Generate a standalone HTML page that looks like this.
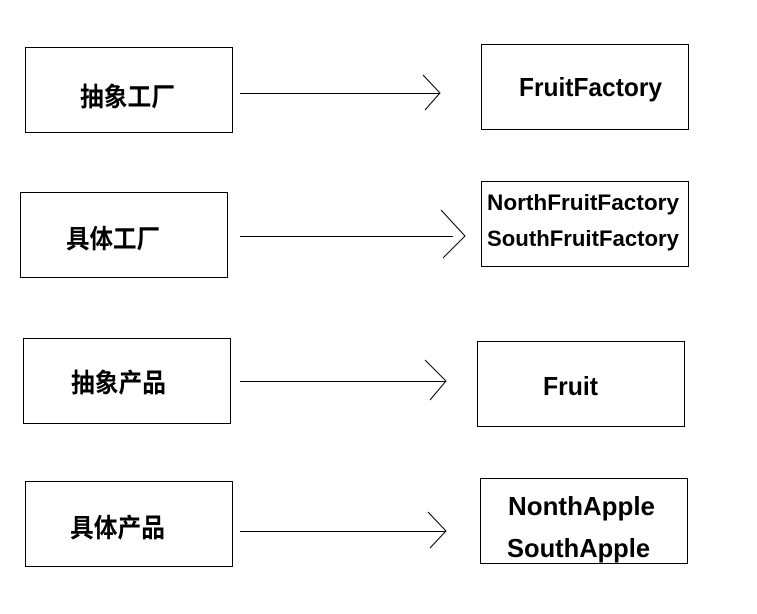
<!DOCTYPE html>
<html><head><meta charset="utf-8"><style>html,body{margin:0;padding:0;background:#fff}</style></head>
<body>
<svg width="757" height="614" xmlns="http://www.w3.org/2000/svg" style="display:block">
<g fill="none" stroke="#000" stroke-width="1">
<rect x="25.5" y="47.5" width="207" height="85"/>
<rect x="481.5" y="44.5" width="207" height="85"/>
<rect x="20.5" y="192.5" width="207" height="85"/>
<rect x="481.5" y="181.5" width="207" height="85"/>
<rect x="23.5" y="338.5" width="207" height="85"/>
<rect x="477.5" y="341.5" width="207" height="85"/>
<rect x="25.5" y="481.5" width="207" height="85"/>
<rect x="480.5" y="478.5" width="207" height="85"/>
<line x1="240" y1="93.5" x2="440" y2="93.5"/>
<polyline points="423,75 440,93 425,110"/>
<line x1="240" y1="236.5" x2="453" y2="236.5"/>
<polyline points="441,210 465,236 443,258"/>
<line x1="240" y1="381.5" x2="446" y2="381.5"/>
<polyline points="425,360 446,381 430,400"/>
<line x1="240" y1="531.5" x2="445" y2="531.5"/>
<polyline points="428,512 446,531 430,548"/>
</g>
<g font-family="'Liberation Sans','Noto Sans CJK SC',sans-serif" font-weight="bold" fill="#000">
<text x="80" y="106" font-size="26" textLength="95" lengthAdjust="spacingAndGlyphs">抽象工厂</text>
<text x="66" y="248" font-size="26" textLength="94" lengthAdjust="spacingAndGlyphs">具体工厂</text>
<text x="71" y="392" font-size="26" textLength="95" lengthAdjust="spacingAndGlyphs">抽象产品</text>
<text x="70" y="537" font-size="26" textLength="95" lengthAdjust="spacingAndGlyphs">具体产品</text>
<text x="519" y="96" font-size="26" textLength="143" lengthAdjust="spacingAndGlyphs">FruitFactory</text>
<text x="487" y="210" font-size="22" textLength="192" lengthAdjust="spacingAndGlyphs">NorthFruitFactory</text>
<text x="487" y="246" font-size="22" textLength="192" lengthAdjust="spacingAndGlyphs">SouthFruitFactory</text>
<text x="543" y="395" font-size="26" textLength="55" lengthAdjust="spacingAndGlyphs">Fruit</text>
<text x="508" y="515" font-size="26" textLength="147" lengthAdjust="spacingAndGlyphs">NonthApple</text>
<text x="507" y="557" font-size="26" textLength="143" lengthAdjust="spacingAndGlyphs">SouthApple</text>
</g>
</svg>
</body></html>
